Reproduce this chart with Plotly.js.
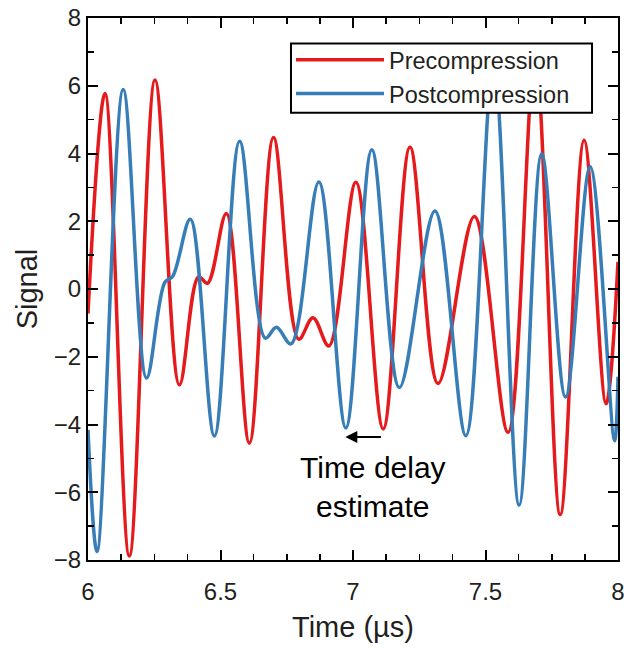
<!DOCTYPE html>
<html>
<head>
<meta charset="utf-8">
<script src="https://cdn.plot.ly/plotly-3.0.1.min.js"></script>
<style>html,body{margin:0;padding:0;background:#fff;}#chart{width:624px;height:649px;}</style>
</head>
<body>
<div id="chart"></div>
<script>
// Precompression (red) (time in µs, signal)
var preTime = [6.000, 6.064, 6.156, 6.253, 6.345, 6.417, 6.451, 6.522, 6.609, 6.700, 6.795, 6.849, 6.909, 7.011, 7.114, 7.215, 7.321, 7.458, 7.585, 7.687, 7.782, 7.872, 7.955, 8.000];
var preSignal = [-0.72, 5.77, -7.88, 6.17, -2.83, 0.36, 0.17, 2.23, -4.55, 4.47, -1.48, -0.85, -1.68, 3.15, -4.13, 4.19, -2.79, 2.14, -4.23, 6.8, -6.66, 4.39, -3.39, 0.8];

// Postcompression (blue)
var postTime = [6.000, 6.034, 6.133, 6.221, 6.290, 6.320, 6.386, 6.477, 6.572, 6.669, 6.711, 6.766, 6.871, 6.973, 7.071, 7.175, 7.309, 7.426, 7.530, 7.627, 7.712, 7.802, 7.895, 7.987, 8.000];
var postSignal = [-4.16, -7.75, 5.89, -2.63, 0.20, 0.38, 2.06, -4.34, 4.36, -1.45, -1.13, -1.62, 3.16, -4.10, 4.11, -2.91, 2.30, -4.33, 6.6, -6.38, 3.99, -3.19, 3.61, -4.48, -2.59];

var seriesNames = ['Precompression', 'Postcompression'];
var xRange = [6, 8];
var yRange = [-8, 8];
var arrowFrom = [7.111, -4.37];
var arrowTo = [6.971, -4.37];
var noteText = 'Time delay<br>estimate';
var notePos = [7.077, -5.85];

var FONT = 'Liberation Sans, Arial, Helvetica, sans-serif';

var traces = [
  {x: preTime, y: preSignal, name: seriesNames[0], type: 'scatter', mode: 'lines',
   line: {color: '#e41a1c', width: 3.5, shape: 'spline', smoothing: 1.0}},
  {x: postTime, y: postSignal, name: seriesNames[1], type: 'scatter', mode: 'lines',
   line: {color: '#377eb8', width: 3.5, shape: 'spline', smoothing: 1.0}}
];

var axisCommon = {
  showline: true, linecolor: '#000', linewidth: 2, mirror: 'allticks',
  ticks: 'inside', ticklen: 10, tickwidth: 2, tickcolor: '#000',
  showgrid: false, zeroline: false, ticklabeloverflow: 'allow',
  tickfont: {family: FONT, size: 24, color: '#231f20'}
};

var layout = {
  width: 624, height: 649,
  margin: {l: 88, r: 6, t: 18, b: 89},
  paper_bgcolor: '#fff', plot_bgcolor: '#fff',
  showlegend: true,
  xaxis: Object.assign({}, axisCommon, {
    range: xRange, tickmode: 'linear', tick0: 6, dtick: 0.5, ticklabelstandoff: 9,
    minor: {dtick: 0.125, tick0: 6, ticks: 'inside', ticklen: 6, tickwidth: 1.5, tickcolor: '#000'},
    title: {text: 'Time (µs)', font: {family: FONT, size: 29, color: '#231f20'}, standoff: 13}
  }),
  yaxis: Object.assign({}, axisCommon, {
    range: yRange, tickmode: 'linear', tick0: 0, dtick: 2,
    minor: {dtick: 1, tick0: 0, ticks: 'inside', ticklen: 6, tickwidth: 1.5, tickcolor: '#000'},
    title: {text: 'Signal', font: {family: FONT, size: 29, color: '#231f20'}, standoff: 8}
  }),
  legend: {
    x: 0.383, y: 0.963, xanchor: 'left', yanchor: 'top',
    bgcolor: 'rgba(0,0,0,0)', borderwidth: 0,
    font: {family: FONT, size: 23.5, color: '#231f20'},
    itemwidth: 88, tracegroupgap: 0
  },
  shapes: [
    {type: 'rect', xref: 'paper', yref: 'paper', x0: 0.383, x1: 0.951, y0: 0.825, y1: 0.953,
     fillcolor: '#fff', line: {color: '#000', width: 2}, layer: 'above'}
  ],
  annotations: [
    {x: arrowTo[0], y: arrowTo[1], ax: arrowFrom[0], ay: arrowFrom[1], axref: 'x', ayref: 'y',
     xref: 'x', yref: 'y', text: '', showarrow: true, arrowhead: 2, arrowsize: 1.2, arrowwidth: 2, arrowcolor: '#000'},
    {x: notePos[0], y: notePos[1], xref: 'x', yref: 'y', text: noteText, showarrow: false,
     font: {family: FONT, size: 30, color: '#000'}, align: 'center'}
  ]
};

Plotly.newPlot('chart', traces, layout, {staticPlot: true, displayModeBar: false});
</script>
</body>
</html>
